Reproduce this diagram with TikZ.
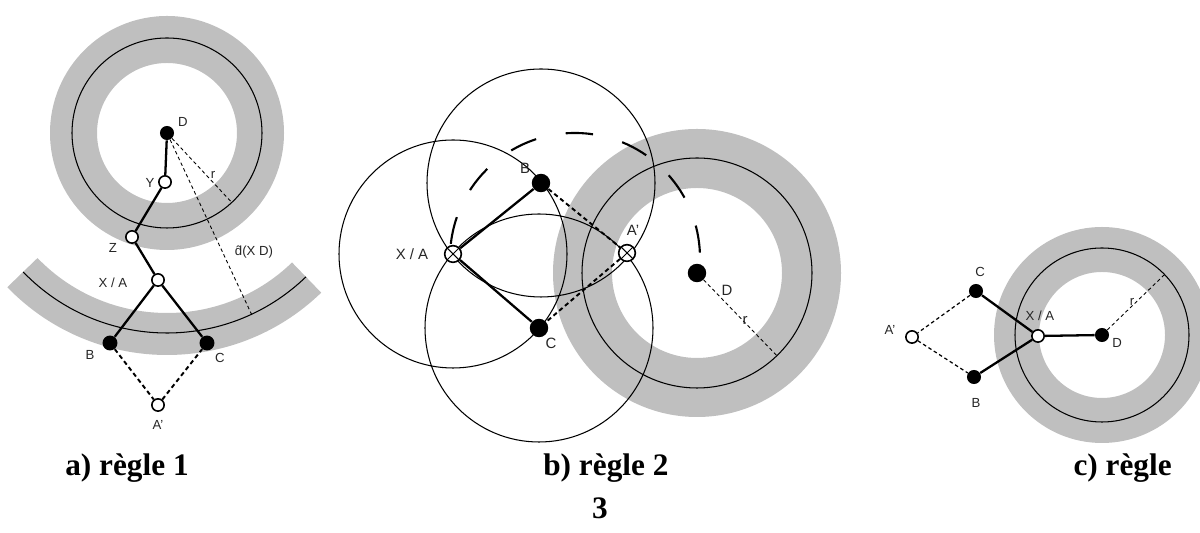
\documentclass[tikz,border=0pt]{standalone}
\usepackage{fontspec}
\setmainfont{Liberation Serif}
\setsansfont{Liberation Sans}
\usetikzlibrary{positioning,backgrounds}

\tikzset{
  band/.style={fill=black!25},
  ring/.style={line width=0.6pt},
  link/.style={line width=1.3pt},
  open/.style={circle,draw,line width=0.9pt,fill=white,inner sep=0pt,minimum size=7pt},
  full/.style={circle,fill=black,inner sep=0pt,minimum size=8pt},
  crossed/.style={open,minimum size=9.5pt,
    path picture={\draw[line width=0.6pt] (path picture bounding box.north west) -- (path picture bounding box.south east)
      (path picture bounding box.south west) -- (path picture bounding box.north east);}},
  lbl/.style={font=\fontsize{7.5}{8}\selectfont\sffamily,text=black!85,inner sep=0pt},
  mirrorline/.style={line width=1.1pt,dash pattern=on 2.5pt off 1.8pt},
  rline/.style={line width=0.5pt,dash pattern=on 2pt off 1.6pt},
  bigdash/.style={line width=1.2pt,dash pattern=on 15.6pt off 17.2pt},
  capt/.style={font=\fontsize{17.8}{20}\selectfont\bfseries,inner sep=0pt},
}

\begin{document}
\begin{tikzpicture}[x=0.02cm,y=0.02cm]
\useasboundingbox (0,0) rectangle (1200,533);

% a) regle 1
\node[full] (a-d) at (167,400) {};
\node[open] (a-y) at (165,351) {};
\node[open] (a-z) at (132,296) {};
\node[open] (a-xa) at (158,253) {};
\node[full,minimum size=8.5pt] (a-b) at (110,190) {};
\node[full,minimum size=8.5pt] (a-c) at (207,190) {};
\node[open] (a-ap) at (158,128) {};
\path (a-d) ++(-47:95) coordinate (a-r);
\path (a-d) ++(-65:200) coordinate (a-e);
\begin{scope}[on background layer]
  \fill[band,even odd rule] (a-d) circle (117) circle (70);
  \draw[ring] (a-d) circle (95);
  \fill[band] (a-d) ++(224:222) arc[start angle=224,end angle=314,radius=222]
    -- ++(134:42) arc[start angle=314,end angle=224,radius=180] -- cycle;
  \draw[ring] (a-d) ++(224:200) arc[start angle=224,end angle=314,radius=200];
\end{scope}
\draw[link] (a-d) -- (a-y) -- (a-z) -- (a-xa) -- (a-b) (a-xa) -- (a-c);
\draw[mirrorline] (a-b) -- (a-ap) -- (a-c);
\draw[rline] (a-d) -- (a-r);
\draw[rline] (a-d) -- (a-e);
\node[lbl] (a-dl) at (183,411) {D};
\node[lbl] (a-yl) at (150,350) {Y};
\node[lbl] (a-zl) at (113,285) {Z};
\node[lbl] (a-xal) at (113,250) {X / A};
\node[lbl] (a-bl) at (90,178) {B};
\node[lbl] (a-cl) at (220,175) {C};
\node[lbl] (a-apl) at (158,108) {A'};
\node[lbl] (a-rl) at (213,358) {r};
\node[lbl] (a-el) at (254,281) {\^{d}(X D)};

% b) regle 2
\node[crossed] (b-xa) at (453,279) {};
\node[full,minimum size=10.5pt] (b-b) at (541,350) {};
\node[full,minimum size=10.5pt] (b-c) at (539,205) {};
\node[crossed] (b-ap) at (627,280) {};
\node[full,minimum size=10.5pt] (b-d) at (697,260) {};
\coordinate (b-m) at (575,275);
\path (b-d) ++(-46:115) coordinate (b-r);
\begin{scope}[on background layer]
  \fill[band,even odd rule] (b-d) circle (144) circle (85);
  \draw[ring] (b-d) circle (115);
  \draw[ring] (b-xa) circle (114) (b-b) circle (114) (b-c) circle (114);
\end{scope}
\draw[bigdash] (b-m) ++(173.5:125) arc[start angle=173.5,end angle=1.4,radius=125];
\draw[link] (b-b) -- (b-xa) -- (b-c);
\draw[mirrorline] (b-b) -- (b-ap) -- (b-c);
\draw[rline] (b-d) -- (b-r);
\begin{scope}[lbl/.append style={font=\fontsize{8.5}{9}\selectfont\sffamily}]
\node[lbl] (b-bl) at (525,365) {B};
\node[lbl] (b-cl) at (551,190) {C};
\node[lbl] (b-xal) at (412,279) {X / A};
\node[lbl] (b-apl) at (633,303) {A'};
\node[lbl] (b-dl) at (727,243) {D};
\node[lbl] (b-rl) at (745,213) {r};
\end{scope}

% c) regle 3
\node[full] (c-d) at (1102,198) {};
\node[open] (c-xa) at (1038,197) {};
\node[full] (c-c) at (976,242) {};
\node[full] (c-b) at (974,156) {};
\node[open] (c-ap) at (912,196) {};
\path (c-d) ++(44:87) coordinate (c-r);
\begin{scope}[on background layer]
  \fill[band,even odd rule] (c-d) circle (108) circle (63);
  \draw[ring] (c-d) circle (87);
\end{scope}
\draw[link] (c-c) -- (c-xa) -- (c-b) (c-xa) -- (c-d);
\draw[rline,line width=0.7pt] (c-c) -- (c-ap) -- (c-b);
\draw[rline] (c-d) -- (c-r);
\node[lbl] (c-xal) at (1040,217) {X / A};
\node[lbl] (c-dl) at (1117,190) {D};
\node[lbl] (c-rl) at (1132,231) {r};
\node[lbl] (c-cl) at (980,261) {C};
\node[lbl] (c-bl) at (976,130) {B};
\node[lbl] (c-apl) at (890,203) {A'};

% captions
\node[capt,anchor=base west] (cap-a) at (65,57) {a) règle 1};
\node[capt,anchor=base west] (cap-b) at (543,57) {b) règle 2};
\node[capt,anchor=base east] (cap-c) at (1172,57) {c) règle};
\node[capt,anchor=base] (cap-n) at (600,14) {3};
\end{tikzpicture}
\end{document}
